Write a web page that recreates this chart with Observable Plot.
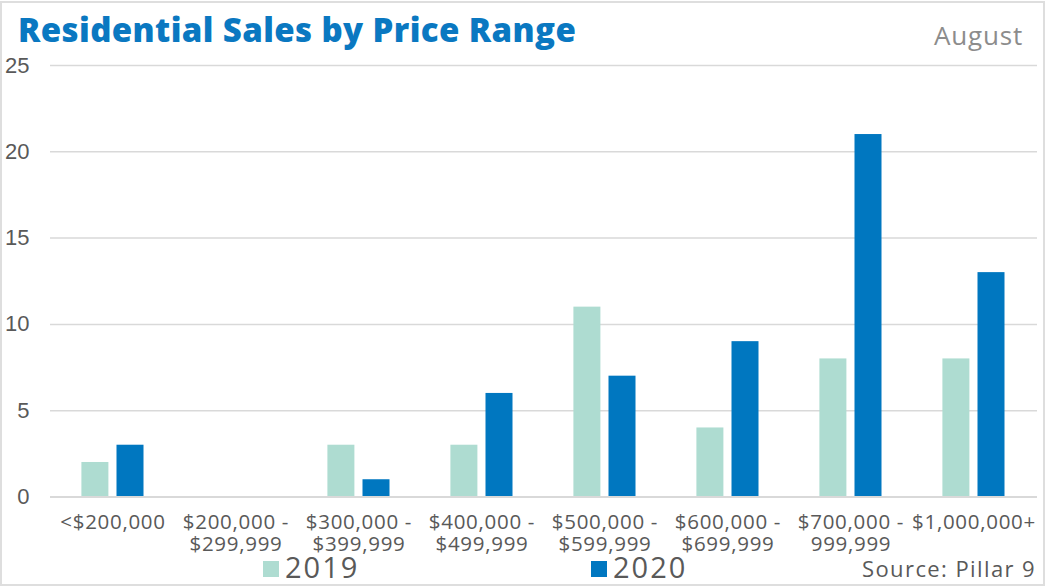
<!DOCTYPE html>
<html>
<head>
<meta charset="utf-8">
<script src="https://cdn.jsdelivr.net/npm/d3@7"></script>
<script src="https://cdn.jsdelivr.net/npm/@observablehq/plot@0.6"></script>
<style>
  html, body { margin: 0; padding: 0; background: #fff; }
  #wrap { position: relative; width: 1045px; height: 586px; overflow: hidden; font-family: "Open Sans", sans-serif; }
  #chart { position: absolute; left: 0; top: 0; }
  .abs { position: absolute; white-space: nowrap; }
  #border { position: absolute; left: 0; top: 1px; width: 1045px; height: 585px; box-sizing: border-box; border: 2px solid #dedede; pointer-events: none; }
  #title { left: 18px; top: 7px; font-size: 33px; line-height: 45px; font-weight: 800; color: #0a78c1; letter-spacing: 0.4px; }
  #month { right: 22px; top: 17px; font-size: 26px; color: #8c8c8c; font-weight: 400; letter-spacing: 0.8px; }
  .leg { top: 547px; font-size: 29px; color: #595959; line-height: 40px; letter-spacing: 2px; }
  .sw { position: absolute; width: 16px; height: 16px; top: 561px; }
  #source { right: 9px; top: 553px; font-size: 22px; color: #595959; letter-spacing: 1.4px; }
  g[aria-label="x-axis tick label"] text { letter-spacing: 0.7px; }
</style>
</head>
<body>
<div id="wrap">
  <div id="chart"></div>
  <div id="border"></div>
  <div id="title" class="abs">Residential Sales by Price Range</div>
  <div id="month" class="abs">August</div>
  <div class="sw" style="left:263px;background:#aedcd1"></div>
  <div class="abs leg" style="left:285px">2019</div>
  <div class="sw" style="left:591px;background:#0077c0"></div>
  <div class="abs leg" style="left:613px">2020</div>
  <div id="source" class="abs">Source: Pillar 9</div>
</div>
<script>
const categories = [
  "<$200,000",
  "$200,000 -\n$299,999",
  "$300,000 -\n$399,999",
  "$400,000 -\n$499,999",
  "$500,000 -\n$599,999",
  "$600,000 -\n$699,999",
  "$700,000 -\n999,999",
  "$1,000,000+"
];
const years = ["2019", "2020"];
const sales2019 = [2, 0, 3, 3, 11, 4, 8, 8];
const sales2020 = [3, 0, 1, 6, 7, 9, 21, 13];
const yTicks = [0, 5, 10, 15, 20, 25];

const colors = { "2019": "#aedcd1", "2020": "#0077c0" };
const rows2019 = categories.map((c, i) => ({ category: c, year: years[0], value: sales2019[i] }));
const rows2020 = categories.map((c, i) => ({ category: c, year: years[1], value: sales2020[i] }));

const chart = Plot.plot({
  width: 1045,
  height: 586,
  marginTop: 65,
  marginBottom: 89.5,
  marginLeft: 50,
  marginRight: 8,
  style: { fontFamily: "'Open Sans', sans-serif", background: "transparent" },
  x: { domain: categories, paddingInner: 0.777, paddingOuter: 0.3885, label: null },
  y: { domain: [0, 25], label: null },
  marks: [
    Plot.ruleY(yTicks.filter(d => d > 0), { stroke: "#d9d9d9", strokeWidth: 1.5 }),
    Plot.barY(rows2019, { x: "category", y: "value", fill: colors["2019"], dx: -17.6 }),
    Plot.barY(rows2020, { x: "category", y: "value", fill: colors["2020"], dx: 17.5 }),
    Plot.ruleY([0], { stroke: "#d9d9d9", strokeWidth: 2 }),
    Plot.axisY({ ticks: yTicks, tickSize: 0, tickPadding: 21, fontSize: 22, color: "#595959", fontFamily: "'Liberation Sans', Arial, sans-serif", label: null }),
    Plot.axisX({ tickSize: 0, tickPadding: 16, fontSize: 20.5, color: "#595959", lineHeight: 1.08, label: null })
  ]
});
document.getElementById("chart").appendChild(chart);
</script>
</body>
</html>
